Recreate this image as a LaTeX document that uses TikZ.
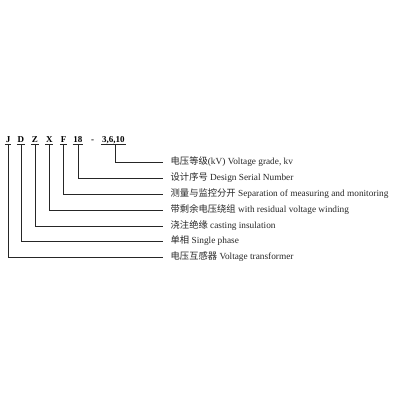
\documentclass[tikz,border=0pt]{standalone}
\usepackage{fontspec}
\setmainfont{Liberation Serif}
\newfontfamily\cjk{Noto Sans CJK SC}
\begin{document}
\begin{tikzpicture}[x=1pt,y=-1pt,
  code/.style={font=\fontsize{9}{10}\selectfont\bfseries, anchor=south, inner xsep=0.6pt, inner ysep=1.8pt, text depth=0pt},
  desc/.style={font=\fontsize{9.3}{11}\selectfont, anchor=west, inner xsep=7.5pt, inner ysep=1pt, text=black!85},
  wire/.style={line width=0.6pt, black!85}]
\useasboundingbox (0,0) rectangle (400,400);
\node[code] (J) at (8,144) {J};
\node[code] (D) at (20.8,144) {D};
\node[code] (Z) at (35,144) {Z};
\node[code] (X) at (49.3,144) {X};
\node[code] (F) at (63.5,144) {F};
\node[code] (N) at (78,144) {18};
\node[code] (dash) at (92.5,144) {-};
\node[code] (V) at (113.5,144) {3,6,10};
\foreach \n in {J,D,Z,X,F,N,V} \draw[wire] (\n.south west) -- (\n.south east);
\node[desc] (t1) at (163,162) {{\cjk 电压等级}(kV) Voltage grade, kv};
\node[desc] (t2) at (163,178) {{\cjk 设计序号} Design Serial Number};
\node[desc] (t3) at (163,194) {{\cjk 测量与监控分开} Separation of measuring and monitoring};
\node[desc] (t4) at (163,210) {{\cjk 带剩余电压绕组} with residual voltage winding};
\node[desc] (t5) at (163,226) {{\cjk 浇注绝缘} casting insulation};
\node[desc] (t6) at (163,241) {{\cjk 单相} Single phase};
\node[desc] (t7) at (163,257) {{\cjk 电压互感器} Voltage transformer};
\draw[wire] ([xshift=1.5pt]V.south) |- (t1.west);
\draw[wire] (N.south) |- (t2.west);
\draw[wire] (F.south) |- (t3.west);
\draw[wire] (X.south) |- (t4.west);
\draw[wire] (Z.south) |- (t5.west);
\draw[wire] (D.south) |- (t6.west);
\draw[wire] (J.south) |- (t7.west);
\end{tikzpicture}
\end{document}
